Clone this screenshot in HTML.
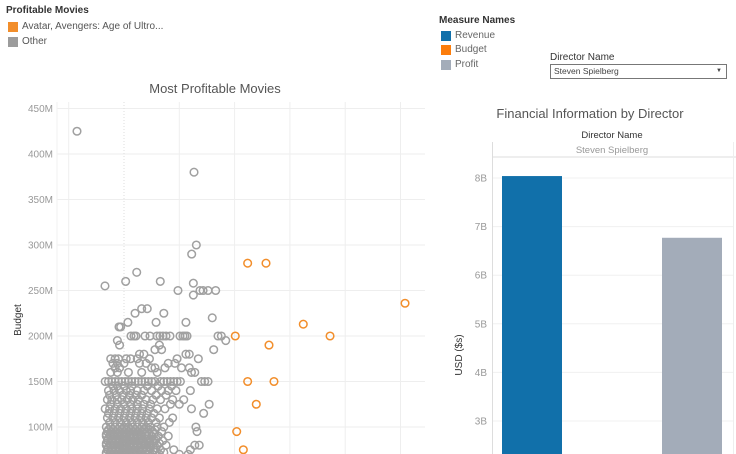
<!DOCTYPE html>
<html><head><meta charset="utf-8">
<style>
body{margin:0;width:736px;height:454px;overflow:hidden;background:#fff;font-family:"Liberation Sans",sans-serif;position:relative}
.t{position:absolute;white-space:nowrap}
.sw{position:absolute;width:10px;height:10px}
</style></head>
<body>
<div class="t" style="left:6px;top:5px;font-size:10px;font-weight:bold;color:#333">Profitable Movies</div>
<div class="sw" style="left:8px;top:22px;background:#f28e2b"></div>
<div class="t" style="left:22px;top:21px;font-size:10px;color:#555">Avatar, Avengers: Age of Ultro...</div>
<div class="sw" style="left:8px;top:37px;background:#9c9c9c"></div>
<div class="t" style="left:22px;top:36px;font-size:10px;color:#555">Other</div>

<div class="t" style="left:439px;top:15px;font-size:10px;font-weight:bold;color:#333">Measure Names</div>
<div class="sw" style="left:441px;top:31px;background:#1170aa"></div>
<div class="t" style="left:455px;top:30px;font-size:10px;color:#666">Revenue</div>
<div class="sw" style="left:441px;top:45px;background:#fc7d0b"></div>
<div class="t" style="left:455px;top:44px;font-size:10px;color:#666">Budget</div>
<div class="sw" style="left:441px;top:60px;background:#a3acb9"></div>
<div class="t" style="left:455px;top:59px;font-size:10px;color:#666">Profit</div>

<div class="t" style="left:550px;top:52px;font-size:10px;color:#333">Director Name</div>
<div style="position:absolute;left:550px;top:64px;width:175px;height:13px;border:1px solid #777;font-size:8.5px;color:#444;line-height:13px;box-sizing:content-box"><span style="margin-left:3px">Steven Spielberg</span><span style="position:absolute;right:4px;top:0;font-size:6px">▼</span></div>

<svg id="sc" width="736" height="454" style="position:absolute;left:0;top:0"></svg>

<script>
const budgetTicks=[100,150,200,250,300,350,400,450];
const budgetTickLabels=["100M","150M","200M","250M","300M","350M","400M","450M"];
const orangeProfit=[1118,1284,2541,1621,1863,1006,1311,1118,1356,1196,1019,1079];
const orangeBudget=[280,280,236,213,200,200,190,150,150,125,95,75];
const greySingleProfit=[-425,633,654,612,115,-172,15,328,627,488,627,687,715,760,829,798,811,672];
const greySingleBudget=[425,380,300,290,270,255,260,260,258,250,245,250,250,250,250,220,185,175];
const greyRowBudget=[230,225,215,210,200,195,190,185,180,175,170,165,160,150,145,140,135,130,125,120,115,110,105,100,97,95,92,90,87,85,82,80,77,75,72,70];
const greyRowProfit=[
[160,210],[100,360],[35,290,560],[-45,-30],
[63,90,108,190,235,298,325,352,380,416,506,533,551,570,850,880],
[-60,920],[-40,320],[280,340],[140,180,590,560],
[-120,-80,-50,20,60,120,230,480],
[-100,-60,0,140,200,400,460],
[-80,-40,250,280,370,520,590],
[-120,-60,40,160,300,610,640],
[-170,-140,-110,-80,-50,-20,10,40,70,100,130,160,190,220,250,280,330,360,390,420,450,480,510,700,730,760],
[-100,-60,0,70,210,310,430],
[-140,-90,-40,20,60,120,180,250,340,400,470,600],
[-130,-70,-10,50,110,160,290,380],
[-150,-110,-60,-20,30,80,130,200,260,330,440,540],
[-120,-60,0,60,120,180,240,420,500,770],
[-170,-130,-80,-30,20,70,120,170,230,300,370,610],
[-140,-90,-40,10,60,110,160,210,270,720],
[-150,-100,-50,0,50,100,150,200,250,320,440],
[-130,-80,-30,20,70,120,170,220,290,410],
[-160,-120,-80,-40,0,40,80,120,160,200,240,300,360,650],
[-140,-100,-60,-20,20,60,100,140,180,230,280],
[-150,-110,-70,-30,10,50,90,130,170,210,260,340,660],
[-160,-125,-90,-55,-20,15,50,85,120,155,190,225,270],
[-160,-120,-80,-40,0,40,80,120,160,200,250,310,400],
[-145,-110,-75,-40,-5,30,65,100,135,170,205,240,290],
[-150,-110,-70,-30,10,50,90,130,170,220,280,350],
[-160,-125,-90,-55,-20,15,50,85,120,155,190,230,270,320],
[-160,-120,-80,-40,0,40,80,120,160,200,240,300,380,640,680],
[-145,-110,-75,-40,-5,30,65,100,135,170,205,240,290],
[-150,-110,-70,-30,10,50,90,130,170,210,270,330,450,600],
[-160,-125,-90,-55,-20,15,50,85,120,155,190,230,280,360],
[-160,-120,-80,-40,0,40,80,120,160,200,260,320,500,580]];
const profitGrid=[-500,0,500,1000,1500,2000,2500];

const barCategories=["Revenue","Budget","Profit"];
const barValues=[8.04,1.27,6.77];
const barColors=["#1170aa","#fc7d0b","#a3acb9"];
const usdTicks=[3,4,5,6,7,8];
const usdTickLabels=["3B","4B","5B","6B","7B","8B"];

const NS="http://www.w3.org/2000/svg";
const svg=document.getElementById('sc');
function mk(tag,attrs,parent){const e=document.createElementNS(NS,tag);for(const k in attrs)e.setAttribute(k,attrs[k]);(parent||svg).appendChild(e);return e;}
const yS=v=>427-(v-100)*0.91;
const xS=v=>124+v*0.1106;

// scatter
let t=mk('text',{x:215,y:93,'text-anchor':'middle','font-size':13,fill:'#555'});t.textContent='Most Profitable Movies';


const clip=mk('clipPath',{id:'cp'});mk('rect',{x:57,y:100,width:370,height:354},clip);
const g=mk('g',{'clip-path':'url(#cp)'});
budgetTicks.forEach((b,i)=>{
  const l=mk('line',{x1:57,x2:425,y1:yS(b),y2:yS(b),stroke:'#eee'},g);
  
  
  const tx=mk('text',{x:53,y:yS(b)+3.5,'text-anchor':'end','font-size':10,fill:'#999'});tx.textContent=budgetTickLabels[i];
  
  
});
profitGrid.forEach(p=>{
  const l=mk('line',{x1:xS(p),x2:xS(p),y1:102,y2:454,stroke:p===0?'#ddd':'#eee','stroke-dasharray':p===0?'1,2':'none'},g);
  
  
});
mk('line',{x1:57,x2:57,y1:102,y2:454,stroke:'#f2f2f2'});
t=mk('text',{x:21,y:320,'text-anchor':'middle','font-size':10,fill:'#333',transform:'rotate(-90 21 320)'});t.textContent='Budget';


function dot(p,b,col,name){const c=mk('circle',{cx:xS(p),cy:yS(b),r:3.8,fill:'none',stroke:col,'stroke-width':1.5},g);
  
  }
greyRowBudget.forEach((b,i)=>greyRowProfit[i].forEach(p=>dot(p,b,'#a0a0a0','point-other')));
greySingleProfit.forEach((p,i)=>dot(p,greySingleBudget[i],'#a0a0a0','point-other'));
orangeProfit.forEach((p,i)=>dot(p,orangeBudget[i],'#f28e2b','point-top-movie'));

// bar chart
const yB=v=>421-(v-3)*48.6;
t=mk('text',{x:590,y:118,'text-anchor':'middle','font-size':13,fill:'#555'});t.textContent='Financial Information by Director';


t=mk('text',{x:612,y:138,'text-anchor':'middle','font-size':9.5,fill:'#333'});t.textContent='Director Name';


t=mk('text',{x:612,y:153,'text-anchor':'middle','font-size':9.5,fill:'#999'});t.textContent='Steven Spielberg';


mk('line',{x1:492,x2:736,y1:157,y2:157,stroke:'#ddd'});
mk('line',{x1:492.5,x2:492.5,y1:142,y2:454,stroke:'#ddd'});
mk('line',{x1:733.5,x2:733.5,y1:142,y2:454,stroke:'#eee'});
const bclip=mk('clipPath',{id:'bc'});mk('rect',{x:493,y:158,width:243,height:296},bclip);
const bg=mk('g',{'clip-path':'url(#bc)'});
usdTicks.forEach((v,i)=>{
  const l=mk('line',{x1:493,x2:733,y1:yB(v),y2:yB(v),stroke:'#f0f0f0'},bg);
  
  
  const tx=mk('text',{x:487,y:yB(v)+3.5,'text-anchor':'end','font-size':10,fill:'#999'});tx.textContent=usdTickLabels[i];
  
  
});
t=mk('text',{x:462,y:355,'text-anchor':'middle','font-size':10,fill:'#333',transform:'rotate(-90 462 355)'});t.textContent='USD ($s)';


barCategories.forEach((c,i)=>{
  const x=502+i*80;
  const r=mk('rect',{x:x,y:yB(barValues[i]),width:60,height:Math.max(0,460-yB(barValues[i])),fill:barColors[i]},bg);
  
  
});
</script>
</body></html>
